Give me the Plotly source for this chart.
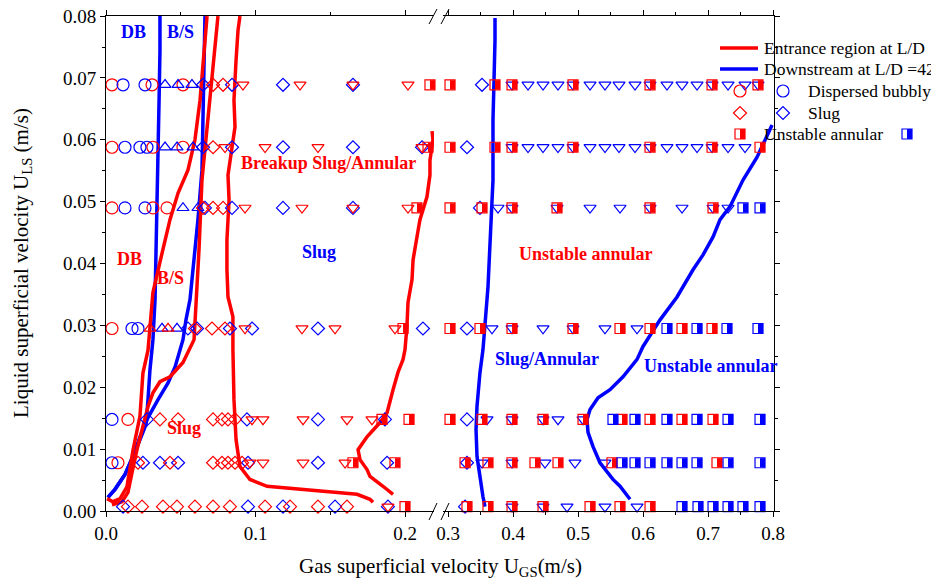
import plotly.graph_objects as go

# ---------------- data ----------------
ROWS = [0.0689, 0.0588, 0.0490, 0.0295, 0.0148, 0.0078, 0.0007]

red_circle = [[0.0040, 0.0308, 0.0515], [0.0040, 0.0314, 0.0515], [0.0040, 0.0314, 0.0408],
              [0.0040], [0.0147], [0.0080], []]
blue_circle = [[0.0114, 0.0261], [0.0127, 0.0227, 0.0274], [0.0127, 0.0261],
               [0.0174, 0.0214], [0.0040], [0.0040], []]
blue_tri_up = [[0.0395, 0.0482, 0.0575], [0.0395, 0.0475, 0.0582], [0.0515, 0.0615],
               [0.0375, 0.0475], [], [], []]
red_tri_up = [[], [], [], [0.0294, 0.0415], [], [], []]
blue_diamond = [[0.0649, 0.0843, 0.1184, 0.1652, 0.3523],
                [0.0649, 0.0843, 0.1184, 0.1652, 0.2114, 0.3292],
                [0.0662, 0.0843, 0.1184, 0.1652, 0.3492],
                [0.0548, 0.0609, 0.0829, 0.0977, 0.1418, 0.2120, 0.3292],
                [0.0274, 0.0943, 0.1418, 0.1866, 0.3292],
                [0.0247, 0.0361, 0.0482, 0.0950, 0.1418, 0.1880, 0.3292],
                [0.0114, 0.0950, 0.1184, 0.1532, 0.1886, 0.3262]]
red_diamond = [[0.0716, 0.0783], [0.0716], [0.0649, 0.0716, 0.0783],
               [0.0595, 0.0709, 0.0796],
               [0.0361, 0.0482, 0.0716, 0.0776, 0.0816, 0.0863],
               [0.0214, 0.0428, 0.0716, 0.0776, 0.0816, 0.0863, 0.0910],
               [0.0147, 0.0241, 0.0381, 0.0475, 0.0595, 0.0716, 0.0829, 0.1064, 0.1231, 0.1418, 0.1612]]
red_tri_down = [[0.0916, 0.1298, 0.1652, 0.2020], [0.0796, 0.1064, 0.1418, 0.2114],
                [0.0930, 0.1311, 0.1652, 0.2020], [0.0930, 0.1311, 0.1532, 0.1933],
                [0.0977, 0.1050, 0.1318, 0.1612, 0.1779], [0.0963, 0.1050, 0.1318, 0.1599],
                [0.1886]]
blue_tri_down = [[0.3985, 0.4231, 0.4462, 0.4692, 0.4923, 0.5185, 0.5415, 0.5631, 0.5877, 0.6108,
                  0.6369, 0.6600, 0.6831, 0.7062, 0.7308, 0.7569, 0.7769],
                 [0.3985, 0.4231, 0.4462, 0.4692, 0.4923, 0.5185, 0.5415, 0.5631, 0.5877, 0.6108,
                  0.6369, 0.6600, 0.6831, 0.7062, 0.7308, 0.7569],
                 [0.3769, 0.3985, 0.4677, 0.5185, 0.5646, 0.6108, 0.6600, 0.7077, 0.7308],
                 [0.3677, 0.3985, 0.4462, 0.4923, 0.5415, 0.5908],
                 [0.3600, 0.3985, 0.4462, 0.4692, 0.5077],
                 [0.3523, 0.3985, 0.4492, 0.4954, 0.5415],
                 [0.3985, 0.4462, 0.4831, 0.5415, 0.5908]]
red_half = [[0.2167, 0.3031, 0.3723, 0.3985, 0.4923, 0.6108, 0.7062, 0.7769],
            [0.2154, 0.3031, 0.3723, 0.3985, 0.4923, 0.6108, 0.7062, 0.7800],
            [0.2080, 0.3031, 0.3523, 0.3985, 0.4677, 0.6108, 0.7077],
            [0.1987, 0.3031, 0.3492, 0.3985, 0.4923, 0.5646, 0.6108, 0.6600, 0.7062],
            [0.1846, 0.2027, 0.3031, 0.3523, 0.3985, 0.4462, 0.5077, 0.5677, 0.6108, 0.6600, 0.7077],
            [0.1652, 0.1933, 0.3262, 0.3615, 0.3985, 0.4338, 0.4692, 0.5523, 0.7138],
            [0.2000, 0.3292, 0.3615, 0.3985, 0.4462, 0.5185, 0.5646, 0.6108]]
blue_half = [[], [], [0.7538, 0.7800],
             [0.6369, 0.6831, 0.7292, 0.7769],
             [0.5538, 0.5877, 0.6369, 0.6831, 0.7308, 0.7800],
             [0.5677, 0.5877, 0.6108, 0.6369, 0.6600, 0.6831, 0.7308, 0.7800],
             [0.6600, 0.6846, 0.7077, 0.7308, 0.7538, 0.7800]]

# transition boundaries
blue_db_x = [0.0361, 0.0361, 0.0355, 0.0348, 0.0341, 0.0334, 0.0328, 0.0314, 0.0294, 0.0281, 0.0268,
             0.0227, 0.0181, 0.0127, 0.0060, 0.0013]
blue_db_y = [0.0800, 0.0745, 0.0664, 0.0584, 0.0503, 0.0422, 0.0342, 0.0277, 0.0228, 0.0180, 0.0140,
             0.0115, 0.0088, 0.0059, 0.0035, 0.0022]
blue_bs_x = [0.0662, 0.0656, 0.0649, 0.0642, 0.0615, 0.0595, 0.0562, 0.0535, 0.0515, 0.0462, 0.0415,
             0.0348, 0.0281, 0.0227, 0.0181, 0.0127, 0.0060, 0.0013]
blue_bs_y = [0.0800, 0.0729, 0.0664, 0.0551, 0.0471, 0.0422, 0.0342, 0.0309, 0.0277, 0.0233, 0.0207,
             0.0180, 0.0151, 0.0120, 0.0088, 0.0059, 0.0035, 0.0022]
red_db_x = [0.0676, 0.0649, 0.0629, 0.0595, 0.0548, 0.0482, 0.0428, 0.0375, 0.0314, 0.0281, 0.0247,
            0.0227, 0.0181, 0.0140, 0.0094, 0.0047, 0.0007]
red_db_y = [0.0800, 0.0729, 0.0664, 0.0600, 0.0551, 0.0514, 0.0471, 0.0417, 0.0353, 0.0260, 0.0223,
            0.0153, 0.0099, 0.0039, 0.0020, 0.0015, 0.0020]
red_bs_x = [0.0749, 0.0716, 0.0676, 0.0642, 0.0622, 0.0602, 0.0589, 0.0515, 0.0428, 0.0361, 0.0314,
            0.0281, 0.0247, 0.0207, 0.0174, 0.0147, 0.0107, 0.0040]
red_bs_y = [0.0800, 0.0717, 0.0611, 0.0535, 0.0422, 0.0342, 0.0277, 0.0240, 0.0217, 0.0209, 0.0191,
            0.0169, 0.0137, 0.0099, 0.0062, 0.0030, 0.0015, 0.0010]
red_brk_x = [0.0896, 0.0883, 0.0870, 0.0856, 0.0863, 0.0836, 0.0816, 0.0823, 0.0809, 0.0809, 0.0816,
             0.0849, 0.0849, 0.0856, 0.0870, 0.0896, 0.0963, 0.1077, 0.1318, 0.1545, 0.1679, 0.1766, 0.1786]
red_brk_y = [0.0800, 0.0777, 0.0729, 0.0664, 0.0621, 0.0576, 0.0543, 0.0503, 0.0438, 0.0390, 0.0346,
             0.0314, 0.0261, 0.0180, 0.0115, 0.0072, 0.0051, 0.0040, 0.0035, 0.0031, 0.0027, 0.0019, 0.0014]
red_ua_x = [0.2181, 0.2187, 0.2167, 0.2167, 0.2147, 0.2100, 0.2080, 0.2054, 0.2047, 0.2020, 0.2013,
            0.2000, 0.1987, 0.1953, 0.1920, 0.1880, 0.1833, 0.1746, 0.1686, 0.1699, 0.1746, 0.1766,
            0.1853, 0.1920]
red_ua_y = [0.0614, 0.0600, 0.0567, 0.0543, 0.0508, 0.0471, 0.0443, 0.0406, 0.0374, 0.0337, 0.0298,
            0.0261, 0.0245, 0.0224, 0.0196, 0.0159, 0.0143, 0.0120, 0.0099, 0.0083, 0.0067, 0.0056,
            0.0040, 0.0027]
blue_sa_x = [0.3723, 0.3723, 0.3708, 0.3692, 0.3692, 0.3677, 0.3646, 0.3615, 0.3538, 0.3492, 0.3446,
             0.3431, 0.3446, 0.3492, 0.3538, 0.3569]
blue_sa_y = [0.0797, 0.0761, 0.0697, 0.0632, 0.0535, 0.0498, 0.0443, 0.0362, 0.0261, 0.0224, 0.0169,
             0.0132, 0.0088, 0.0051, 0.0023, 0.0007]
blue_ua_x = [0.7985, 0.7877, 0.7754, 0.7538, 0.7415, 0.7338, 0.7185, 0.7077, 0.6923, 0.6769, 0.6523,
             0.6262, 0.6000, 0.5908, 0.5692, 0.5492, 0.5308, 0.5185, 0.5138, 0.5154, 0.5231, 0.5338,
             0.5538, 0.5646, 0.5800]
blue_ua_y = [0.0624, 0.0600, 0.0572, 0.0535, 0.0508, 0.0492, 0.0471, 0.0443, 0.0414, 0.0390, 0.0346,
             0.0309, 0.0266, 0.0245, 0.0217, 0.0196, 0.0183, 0.0164, 0.0148, 0.0127, 0.0104, 0.0078,
             0.0051, 0.0040, 0.0019]

X1_TICKS = [0.0, 0.1, 0.2]
X2_TICKS = [0.3, 0.4, 0.5, 0.6, 0.7, 0.8]
Y_TICKS = [0.00, 0.01, 0.02, 0.03, 0.04, 0.05, 0.06, 0.07, 0.08]

# ---------------- layout geometry ----------------
W, H = 931, 586
BODY = 0                       # page margin is removed by the post script below
PL, PR, PT, PB = 106, 774, 16, 511   # plot area in page pixels
ML, MT = PL - BODY, PT - BODY
MR, MB = W - (PR - BODY), H - (PB - BODY)
PW, PH = PR - PL, PB - PT
X1_RANGE = [0.0, 0.2194]
X2_RANGE = [0.2923, 0.8015]
Y_RANGE = [0.0, 0.08002]
X1_DOM = [0.0, 328 / PW]
X2_DOM = [337 / PW, 1.0]
SPLIT = 0.25
RED, BLUE = '#ff0000', '#0000ff'
FONT = 'Liberation Serif'

def pxp(xp):
    return (xp - PL) / PW

def pyp(yp):
    return (PB - yp) / PH

# pixel -> data offsets for the half-filled squares
DX = [2.5 * (X1_RANGE[1] - X1_RANGE[0]) / ((X1_DOM[1] - X1_DOM[0]) * PW),
      2.5 * (X2_RANGE[1] - X2_RANGE[0]) / ((X2_DOM[1] - X2_DOM[0]) * PW)]

fig = go.Figure()

def add_line(xs, ys, color, axis):
    fig.add_trace(go.Scatter(x=xs, y=ys, mode='lines', xaxis=axis[0], yaxis=axis[1],
                             line=dict(color=color, width=3.5), showlegend=False, hoverinfo='skip'))

add_line(red_brk_x, red_brk_y, RED, ('x', 'y'))
add_line(red_ua_x, red_ua_y, RED, ('x', 'y'))
add_line(blue_db_x, blue_db_y, BLUE, ('x', 'y'))
add_line(blue_bs_x, blue_bs_y, BLUE, ('x', 'y'))
add_line(red_db_x, red_db_y, RED, ('x', 'y'))
add_line(red_bs_x, red_bs_y, RED, ('x', 'y'))
add_line(blue_sa_x, blue_sa_y, BLUE, ('x2', 'y2'))
add_line(blue_ua_x, blue_ua_y, BLUE, ('x2', 'y2'))

def flatten(rows):
    xs, ys = [], []
    for y, row in zip(ROWS, rows):
        for x in row:
            xs.append(x)
            ys.append(y)
    return xs, ys

def add_markers(rows, symbol, color, size, lw=1.2, shift=0.0):
    xs, ys = flatten(rows)
    for seg, (xa, ya) in enumerate([('x', 'y'), ('x2', 'y2')]):
        pts = [(x, y) for x, y in zip(xs, ys) if (x < SPLIT) == (seg == 0)]
        if not pts:
            continue
        fig.add_trace(go.Scatter(
            x=[p[0] + shift * DX[seg] for p in pts], y=[p[1] for p in pts],
            xaxis=xa, yaxis=ya, mode='markers', cliponaxis=False,
            marker=dict(symbol=symbol, size=size, color=color, line=dict(color=color, width=lw)),
            showlegend=False, hoverinfo='skip'))

def add_half(rows, color):
    add_markers(rows, 'square-open', color, 10, 1.2)
    add_markers(rows, 'line-ns-open', color, 6.6, 5, shift=1.0)

add_markers(red_circle, 'circle-open', RED, 12)
add_markers(blue_circle, 'circle-open', BLUE, 12)
add_markers(blue_tri_up, 'triangle-up-open', BLUE, 10.5)
add_markers(red_tri_up, 'triangle-up-open', RED, 10.5)
add_markers(blue_diamond, 'diamond-open', BLUE, 10)
add_markers(red_diamond, 'diamond-open', RED, 10)
add_markers(red_tri_down, 'triangle-down-open', RED, 10.5)
add_markers(blue_tri_down, 'triangle-down-open', BLUE, 10.5)
add_half(red_half, RED)
add_half(blue_half, BLUE)

# ---------------- legend (drawn with paper-referenced shapes) ----------------
shapes = [
    dict(type='line', xref='paper', yref='paper', x0=pxp(720), x1=pxp(758), y0=pyp(48), y1=pyp(48),
         line=dict(color=RED, width=3.5)),
    dict(type='line', xref='paper', yref='paper', x0=pxp(720), x1=pxp(758), y0=pyp(69), y1=pyp(69),
         line=dict(color=BLUE, width=3.5)),
]

def leg_circle(xc, yc, color, r=6):
    shapes.append(dict(type='circle', xref='paper', yref='paper', x0=pxp(xc - r), x1=pxp(xc + r),
                       y0=pyp(yc + r), y1=pyp(yc - r), line=dict(color=color, width=1.2)))

def leg_diamond(xc, yc, color, r=6.5):
    path = 'M {:.5f},{:.5f} L {:.5f},{:.5f} L {:.5f},{:.5f} L {:.5f},{:.5f} Z'.format(
        pxp(xc - r), pyp(yc), pxp(xc), pyp(yc - r), pxp(xc + r), pyp(yc), pxp(xc), pyp(yc + r))
    shapes.append(dict(type='path', xref='paper', yref='paper', path=path,
                       line=dict(color=color, width=1.2)))

def leg_half(xc, yc, color, r=5):
    shapes.append(dict(type='rect', xref='paper', yref='paper', x0=pxp(xc - r), x1=pxp(xc + r),
                       y0=pyp(yc + r), y1=pyp(yc - r), line=dict(color=color, width=1.2)))
    shapes.append(dict(type='rect', xref='paper', yref='paper', x0=pxp(xc), x1=pxp(xc + r),
                       y0=pyp(yc + r), y1=pyp(yc - r), fillcolor=color, line=dict(width=0)))

leg_circle(740, 91, RED)
leg_circle(783, 91, BLUE)
leg_diamond(740, 113, RED)
leg_diamond(783, 113, BLUE)
leg_half(740, 134, RED)
leg_half(907, 134, BLUE)

# axis break marks
for x0 in (429, 441):
    shapes.append(dict(type='line', xref='paper', yref='paper', x0=pxp(x0), x1=pxp(x0 + 8),
                       y0=pyp(24), y1=pyp(9), line=dict(color='black', width=1)))
    shapes.append(dict(type='line', xref='paper', yref='paper', x0=pxp(x0), x1=pxp(x0 + 8),
                       y0=pyp(520), y1=pyp(503), line=dict(color='black', width=1)))

def ann(text, xp, yp, color='black', size=18, xanchor='center', angle=0):
    return dict(text=text, x=pxp(xp), y=pyp(yp), xref='paper', yref='paper', showarrow=False,
                xanchor=xanchor, yanchor='middle', textangle=angle, borderpad=0,
                font=dict(family=FONT, size=size, color=color))

annotations = [
    ann('Entrance region at L/D', 763, 48, size=17.5, xanchor='left'),
    ann('Downstream at L/D =42', 763, 69, size=17.5, xanchor='left'),
    ann('Dispersed bubbly', 807, 91, size=17.5, xanchor='left'),
    ann('Slug', 807, 113, size=17.5, xanchor='left'),
    ann('Unstable annular', 763, 134, size=17.5, xanchor='left'),
    ann('<b>DB</b>', 133, 32, BLUE),
    ann('<b>B/S</b>', 180, 32, BLUE),
    ann('<b>DB</b>', 129, 259, RED),
    ann('<b>B/S</b>', 170, 278, RED),
    ann('<b>Breakup Slug/Annular</b>', 328, 163, RED),
    ann('<b>Slug</b>', 319, 252, BLUE),
    ann('<b>Slug</b>', 184, 428, RED),
    ann('<b>Unstable annular</b>', 586, 254, RED),
    ann('<b>Slug/Annular</b>', 547, 359, BLUE),
    ann('<b>Unstable annular</b>', 711, 366, BLUE),
    ann('Gas superficial velocity U<sub>GS</sub>(m/s)', 440, 567, size=21),
    ann('Liquid superficial velocity U<sub>LS</sub> (m/s)', 22, 263, size=21, angle=-90),
]

common = dict(showline=True, linecolor='black', linewidth=1, ticks='outside', ticklen=5,
              tickcolor='black', tickwidth=1, showgrid=False, zeroline=False,
              ticklabeloverflow='allow',
              tickfont=dict(family=FONT, size=19, color='black'))

fig.update_layout(
    width=W, height=H, margin=dict(l=ML, r=MR, t=MT, b=MB, autoexpand=False),
    paper_bgcolor='white', plot_bgcolor='rgba(0,0,0,0)',
    showlegend=False,
    xaxis=dict(domain=X1_DOM, range=X1_RANGE, anchor='y', tickvals=X1_TICKS, tickformat='.1f',
               mirror='ticks',
               minor=dict(ticks='outside', ticklen=3, tickcolor='black', dtick=0.05, tick0=0.0,
                          showgrid=False), **common),
    xaxis2=dict(domain=X2_DOM, range=X2_RANGE, anchor='y2', tickvals=X2_TICKS, tickformat='.1f',
                mirror='ticks',
                minor=dict(ticks='outside', ticklen=3, tickcolor='black', dtick=0.05, tick0=0.3,
                           showgrid=False), **common),
    yaxis=dict(domain=[0, 1], range=Y_RANGE, anchor='x', tickvals=Y_TICKS, tickformat='.2f',
               minor=dict(ticks='outside', ticklen=3, tickcolor='black', dtick=0.005, tick0=0,
                          showgrid=False), **common),
    yaxis2=dict(domain=[0, 1], range=Y_RANGE, anchor='x2', side='right', tickvals=Y_TICKS,
                showticklabels=False,
                minor=dict(ticks='outside', ticklen=3, tickcolor='black', dtick=0.005, tick0=0,
                           showgrid=False), **common),
    shapes=shapes, annotations=annotations,
)

fig.write_html('out.html', config={'displayModeBar': False},
               post_script="document.body.style.margin='0';")
